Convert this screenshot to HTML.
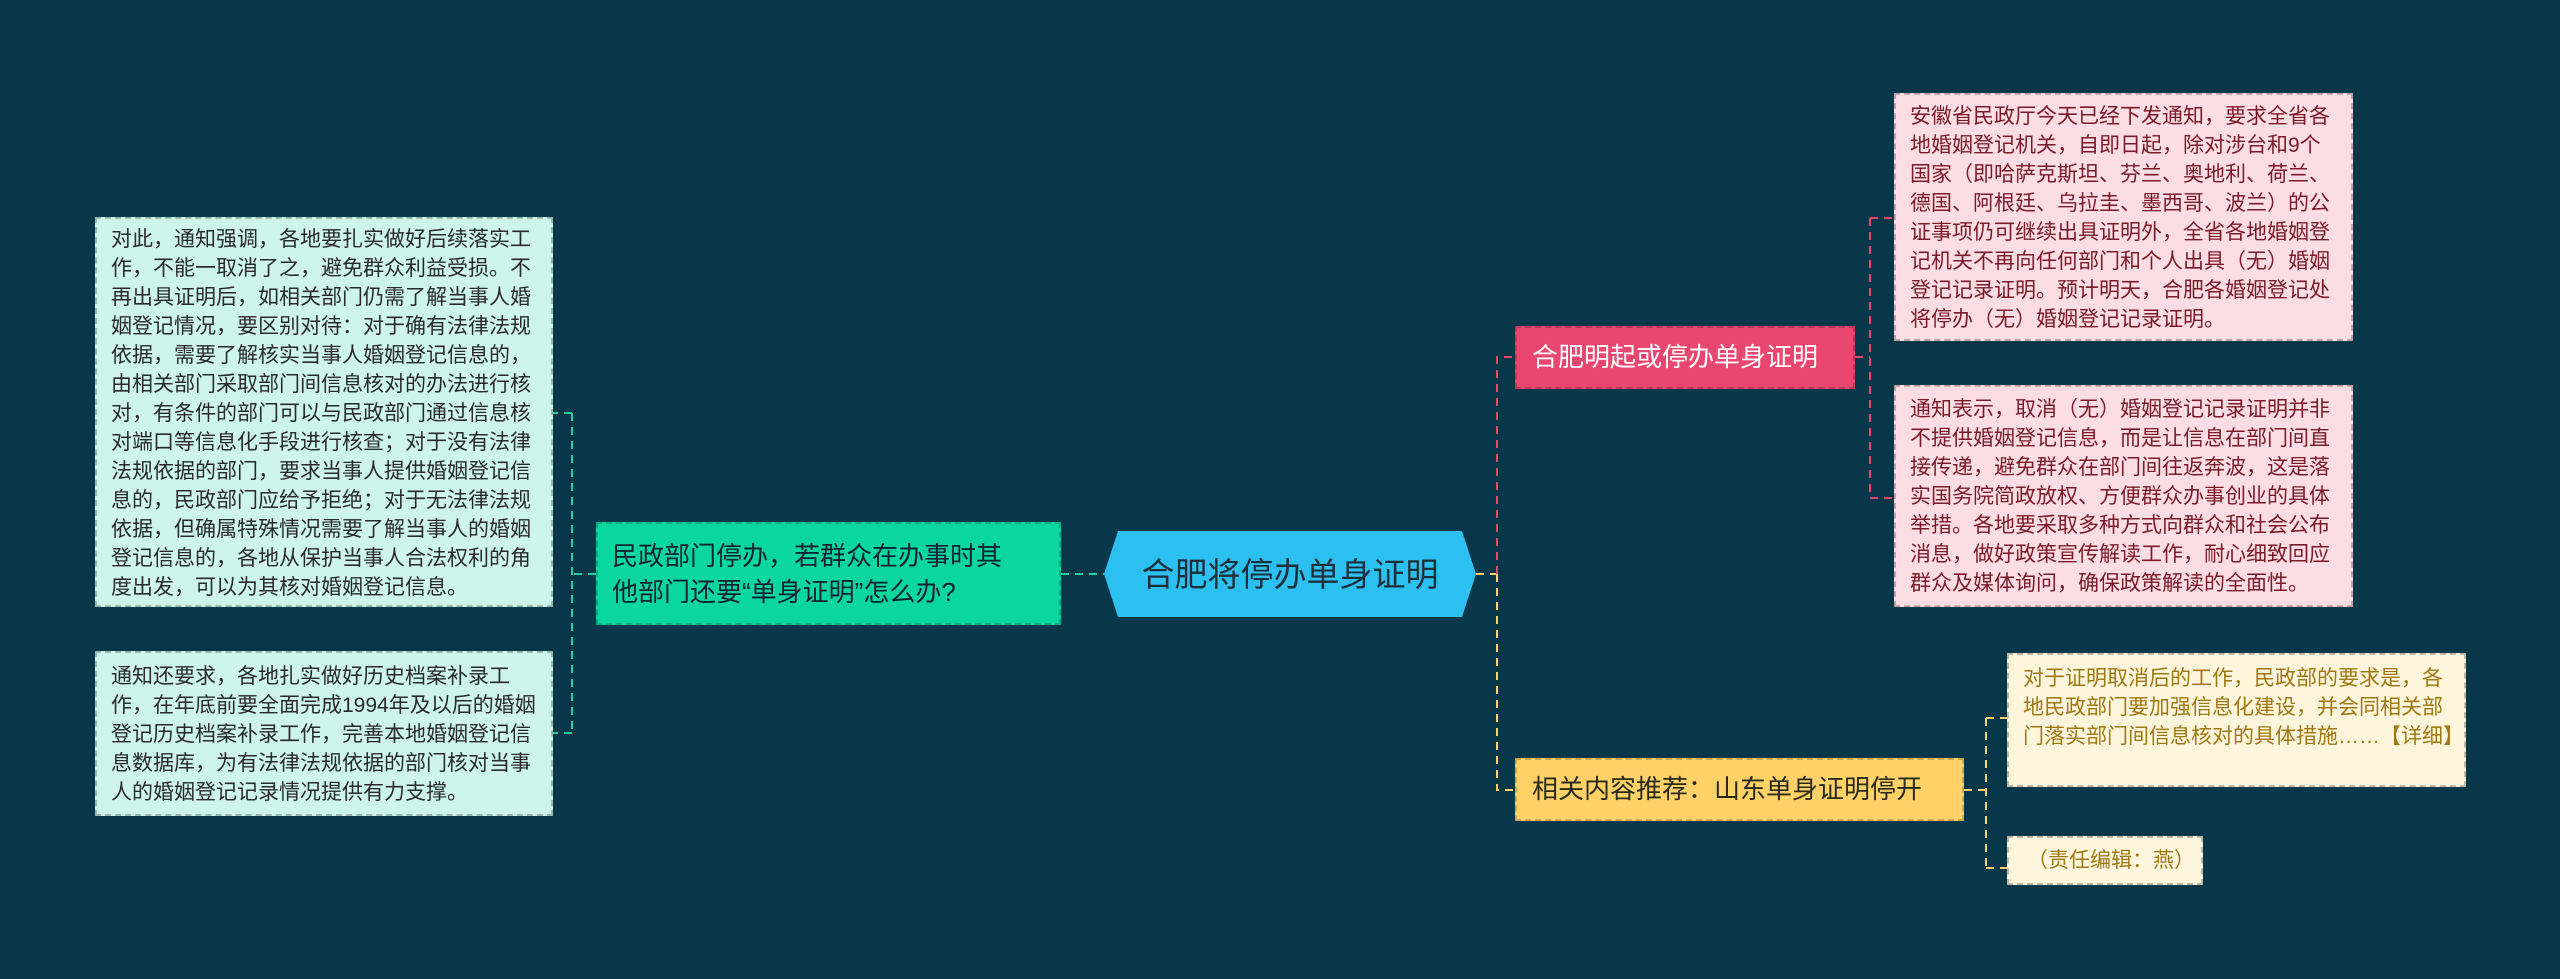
<!DOCTYPE html>
<html><head><meta charset="utf-8"><style>
body{margin:0;width:2560px;height:979px;background:#073749;position:relative;overflow:hidden;font-family:"Liberation Sans","Noto Sans CJK SC",sans-serif}
.b{position:absolute;box-sizing:border-box}
.note{font-size:21px;line-height:29px;padding:6px 14px;border:2px dashed rgba(0,0,0,0.25)}
</style></head><body>
<svg class="b" style="left:0;top:0" width="2560" height="979">
<g fill="none" stroke-width="2" stroke-dasharray="8,6">
<path d="M1061 574 H1104" stroke="#1fd0a0"/>
<path d="M596 574 H572 M572 413 V733 M572 413 H553 M572 733 H553" stroke="#1fd0a0"/>
<path d="M1476 574 H1497" stroke="#ffd166"/>
<path d="M1497 574 V357 H1515" stroke="#e94670"/>
<path d="M1497 574 V790 H1515" stroke="#ffd166"/>
<path d="M1855 357 H1870 M1870 218 V498 M1870 218 H1894 M1870 498 H1894" stroke="#e94670"/>
<path d="M1964 790 H1986 M1986 718 V868 M1986 718 H2007 M1986 868 H2007" stroke="#ffd166"/>
</g>
<polygon points="1118,531 1462,531 1476,574 1462,617 1118,617 1104,574" fill="#2bc0ef"/>
<text x="1290" y="586" text-anchor="middle" font-size="33" fill="#1f2f3a" font-family="Liberation Sans, Noto Sans CJK SC, sans-serif">合肥将停办单身证明</text>
</svg>
<div class="b note" style="left:95px;top:217px;width:458px;height:390px;background:#cdf5ec;color:#2a2a2a">对此，通知强调，各地要扎实做好后续落实工作，不能一取消了之，避免群众利益受损。不再出具证明后，如相关部门仍需了解当事人婚姻登记情况，要区别对待：对于确有法律法规依据，需要了解核实当事人婚姻登记信息的，由相关部门采取部门间信息核对的办法进行核对，有条件的部门可以与民政部门通过信息核对端口等信息化手段进行核查；对于没有法律法规依据的部门，要求当事人提供婚姻登记信息的，民政部门应给予拒绝；对于无法律法规依据，但确属特殊情况需要了解当事人的婚姻登记信息的，各地从保护当事人合法权利的角度出发，可以为其核对婚姻登记信息。</div>
<div class="b note" style="left:95px;top:651px;width:458px;height:165px;background:#cdf5ec;color:#2a2a2a;padding-top:9px">通知还要求，各地扎实做好历史档案补录工作，在年底前要全面完成1994年及以后的婚姻登记历史档案补录工作，完善本地婚姻登记信息数据库，为有法律法规依据的部门核对当事人的婚姻登记记录情况提供有力支撑。</div>
<div class="b" style="left:596px;top:522px;width:465px;height:103px;background:#0ad7a0;color:#123;font-size:26px;line-height:36px;padding:14px 40px 14px 14px;border:2px dashed rgba(0,0,0,0.2)">民政部门停办，若群众在办事时其他部门还要“单身证明”怎么办?</div>
<div class="b" style="left:1515px;top:326px;width:340px;height:63px;background:#e94670;color:#fff;font-size:26px;line-height:59px;padding-left:15px;border:2px dashed rgba(0,0,0,0.2)">合肥明起或停办单身证明</div>
<div class="b note" style="left:1894px;top:93px;width:459px;height:248px;background:#fcdde3;color:#7a1a2a;padding-top:7px">安徽省民政厅今天已经下发通知，要求全省各地婚姻登记机关，自即日起，除对涉台和9个国家（即哈萨克斯坦、芬兰、奥地利、荷兰、德国、阿根廷、乌拉圭、墨西哥、波兰）的公证事项仍可继续出具证明外，全省各地婚姻登记机关不再向任何部门和个人出具（无）婚姻登记记录证明。预计明天，合肥各婚姻登记处将停办（无）婚姻登记记录证明。</div>
<div class="b note" style="left:1894px;top:385px;width:459px;height:222px;background:#fcdde3;color:#7a1a2a;padding-top:8px">通知表示，取消（无）婚姻登记记录证明并非不提供婚姻登记信息，而是让信息在部门间直接传递，避免群众在部门间往返奔波，这是落实国务院简政放权、方便群众办事创业的具体举措。各地要采取多种方式向群众和社会公布消息，做好政策宣传解读工作，耐心细致回应群众及媒体询问，确保政策解读的全面性。</div>
<div class="b" style="left:1515px;top:758px;width:449px;height:63px;background:#ffd166;color:#2a2a1a;font-size:26px;line-height:59px;padding-left:15px;border:2px dashed rgba(0,0,0,0.2)">相关内容推荐：山东单身证明停开</div>
<div class="b note" style="left:2007px;top:653px;width:459px;height:134px;background:#fdf6dc;color:#a07812;padding-top:9px;padding-right:8px">对于证明取消后的工作，民政部的要求是，各地民政部门要加强信息化建设，并会同相关部门落实部门间信息核对的具体措施……【详细】</div>
<div class="b note" style="left:2007px;top:836px;width:196px;height:49px;background:#fdf6dc;color:#a07812;padding:8px 0 0 18px">（责任编辑：燕）</div>
</body></html>
